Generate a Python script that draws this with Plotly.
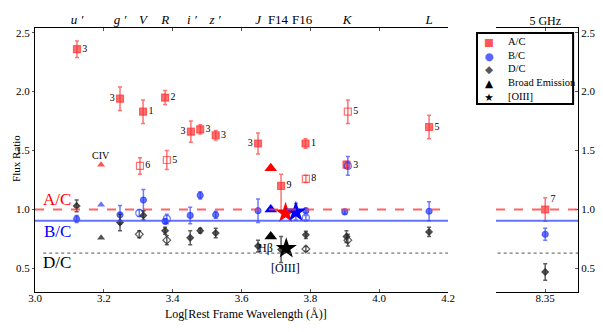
import plotly.graph_objects as go

# band positions (log rest-frame wavelength) and names for the top axis
band_x = [3.122, 3.247, 3.314, 3.378, 3.456, 3.523, 3.648, 3.706, 3.776, 3.907, 4.145]
band_names = ["<i>u ′</i>", "<i>g ′</i>", "<i>V</i>", "<i>R</i>", "<i>i ′</i>", "<i>z ′</i>",
              "<i>J</i>", "F14", "F16", "<i>K</i>", "<i>L</i>"]

# A/C filled squares
ac_x = [3.122, 3.247, 3.314, 3.378, 3.453, 3.480, 3.525, 3.648, 3.715, 3.786, 3.905, 4.145]
ac_y = [2.36, 1.94, 1.83, 1.95, 1.66, 1.68, 1.63, 1.56, 1.20, 1.56, 1.38, 1.70]
ac_err = [0.07, 0.10, 0.10, 0.06, 0.09, 0.04, 0.04, 0.09, 0.10, 0.04, 0.03, 0.10]
ac_err_lo = [0.07, 0.10, 0.10, 0.06, 0.09, 0.04, 0.04, 0.09, 0.22, 0.04, 0.03, 0.10]
ac_ref = ["3", "3", "1", "2", "3", "3", "3", "3", "9", "1", "", "5"]
ac_pos = ["middle right", "middle left", "middle right", "middle right", "middle left",
          "middle right", "middle right", "middle left", "middle right", "middle right",
          "middle right", "middle right"]

# A/C open squares
aco_x = [3.305, 3.383, 3.787, 3.909]
aco_y = [1.37, 1.42, 1.26, 1.83]
aco_err = [0.07, 0.08, 0.03, 0.10]
aco_ref = ["6", "5", "8", "5"]

# B/C filled circles
bc_x = [3.121, 3.247, 3.315, 3.378, 3.451, 3.480, 3.525, 3.648, 3.787, 3.900, 4.145]
bc_y = [0.92, 0.955, 1.08, 0.90, 0.95, 1.12, 0.955, 0.99, 0.99, 0.98, 0.985]
bc_err = [0.03, 0.08, 0.09, 0.02, 0.07, 0.03, 0.03, 0.10, 0.02, 0.02, 0.08]

# B/C open circles
bco_x = [3.303, 3.383, 3.787, 3.909]
bco_y = [0.97, 0.92, 0.93, 1.37]
bco_err = [0.03, 0.04, 0.02, 0.08]
bco_ref = ["", "", "", "3"]

# D/C filled diamonds
dc_x = [3.121, 3.247, 3.315, 3.378, 3.451, 3.480, 3.525, 3.648, 3.715, 3.787, 3.905, 4.145]
dc_y = [1.03, 0.89, 0.95, 0.82, 0.76, 0.82, 0.80, 0.69, 0.66, 0.785, 0.77, 0.81]
dc_err = [0.05, 0.07, 0.04, 0.03, 0.06, 0.02, 0.04, 0.05, 0.11, 0.03, 0.05, 0.04]

# D/C open diamonds
dco_x = [3.303, 3.383, 3.787, 3.909]
dco_y = [0.79, 0.74, 0.665, 0.74]
dco_err = [0.03, 0.04, 0.02, 0.05]

# broad emission lines (CIV, Hbeta)
civ_x = 3.192
civ_y = [1.38, 1.04, 0.76]
hb_x = 3.685
hb_y = [1.35, 1.00, 0.77]

# [OIII]
oiii_x = [3.728, 3.758, 3.730]
oiii_y = [0.97, 0.98, 0.67]
oiii_err = [0, 0.07, 0]

# 5 GHz radio
radio_x = 8.35
radio_y = [1.00, 0.79, 0.47]
radio_err = [0.10, 0.05, 0.07]

# mean ratio levels
ac_mean, bc_mean, dc_mean = 1.0, 0.905, 0.63

# legend entries
legend_names = ["A/C", "B/C", "D/C", "Broad Emission", "[OIII]"]

RED = "rgba(255,40,40,0.65)"
BLUE = "rgba(30,50,255,0.65)"
GREY = "rgba(40,40,40,0.75)"
SERIF = "Liberation Serif"

fig = go.Figure()


def pts(x, y, err, color, symbol, size, err_lo=None, text=None, pos="middle right",
        xa="x", ya="y"):
    fig.add_trace(go.Scatter(
        x=x, y=y, xaxis=xa, yaxis=ya,
        mode="markers+text" if text else "markers",
        text=text, textposition=pos,
        textfont=dict(family=SERIF, size=10, color="black"),
        marker=dict(symbol=symbol, size=size, color=color,
                    line=dict(color=color, width=1.2)),
        error_y=dict(type="data", array=err, arrayminus=err_lo if err_lo else err,
                     color=color, thickness=1.5, width=2),
        showlegend=False, cliponaxis=False))


pts(ac_x, ac_y, ac_err, RED, "square", 7, ac_err_lo, ac_ref, ac_pos)
pts(aco_x, aco_y, aco_err, RED, "square-open", 7, None, aco_ref)
pts(bc_x, bc_y, bc_err, BLUE, "circle", 6)
pts(bco_x, bco_y, bco_err, BLUE, "circle-open", 7, None, bco_ref)
pts(dc_x, dc_y, dc_err, GREY, "diamond", 5)
pts(dco_x, dco_y, dco_err, GREY, "diamond-open", 6)

line_cols = ["red", "blue", "black"]
fig.add_trace(go.Scatter(x=[civ_x] * 3, y=civ_y, mode="markers", showlegend=False,
                         marker=dict(symbol="triangle-up", size=7,
                                     color=["rgba(255,40,40,0.8)", "rgba(40,60,255,0.7)",
                                            "rgba(40,40,40,0.8)"])))
fig.add_trace(go.Scatter(x=[hb_x] * 3, y=hb_y, mode="markers", showlegend=False,
                         marker=dict(symbol="triangle-up", size=11, color=line_cols)))
fig.add_trace(go.Scatter(x=oiii_x, y=oiii_y, mode="markers", showlegend=False,
                         error_y=dict(type="data", array=oiii_err, color=BLUE,
                                      thickness=1.5, width=2),
                         marker=dict(symbol="star", size=16, color=line_cols)))

# radio panel
pts([radio_x], [radio_y[0]], [radio_err[0]], RED, "square", 7, None, ["7"], "top right",
    "x2", "y2")
pts([radio_x], [radio_y[1]], [radio_err[1]], BLUE, "circle", 6, xa="x2", ya="y2")
pts([radio_x], [radio_y[2]], [radio_err[2]], GREY, "diamond", 5, xa="x2", ya="y2")

# invisible traces so the top (band / frequency) axes get drawn
fig.add_trace(go.Scatter(x=band_x, y=[None] * len(band_x), xaxis="x3", yaxis="y",
                         mode="markers", showlegend=False, hoverinfo="skip"))
fig.add_trace(go.Scatter(x=[radio_x], y=[None], xaxis="x4", yaxis="y2",
                         mode="markers", showlegend=False, hoverinfo="skip"))

# mean level lines in both panels
for xr, yr in [("x domain", "y"), ("x2 domain", "y2")]:
    fig.add_shape(type="line", xref=xr, yref=yr, x0=0, x1=1, y0=ac_mean, y1=ac_mean,
                  line=dict(color="rgba(255,60,60,0.8)", width=2, dash="dash"))
    fig.add_shape(type="line", xref=xr, yref=yr, x0=0, x1=1, y0=bc_mean, y1=bc_mean,
                  line=dict(color="rgba(60,80,255,0.8)", width=2))
    fig.add_shape(type="line", xref=xr, yref=yr, x0=0.02, x1=1, y0=dc_mean, y1=dc_mean,
                  line=dict(color="rgba(80,80,80,0.8)", width=1.2, dash="dot"))

anns = [("A/C", 3.065, 1.085, "red", 17), ("B/C", 3.065, 0.81, "blue", 17),
        ("D/C", 3.065, 0.55, "black", 17), ("CIV", civ_x, 1.46, "black", 10),
        ("Hβ", 3.670, 0.675, "black", 12), ("[OIII]", 3.727, 0.505, "black", 12)]
for t, ax_, ay_, c, s in anns:
    fig.add_annotation(x=ax_, y=ay_, text=t, showarrow=False,
                       font=dict(family=SERIF, size=s, color=c))

axis_font = dict(family=SERIF, size=11, color="black")

# axis titles
fig.add_annotation(xref="paper", yref="paper", x=0.389, y=-0.083, xanchor="center",
                   yanchor="middle", text="Log[Rest Frame Wavelength (Å)]",
                   showarrow=False, font=dict(family=SERIF, size=12, color="black"))
fig.add_annotation(xref="paper", yref="paper", x=-0.035, y=0.508, xanchor="center",
                   yanchor="middle", text="Flux Ratio", textangle=-90, showarrow=False,
                   font=axis_font)

# legend box (compact, drawn with annotations)
leg_syms = ["<span style='color:rgba(255,40,40,0.8)'>■</span>",
            "<span style='color:rgba(30,50,255,0.75)'>●</span>",
            "<span style='color:rgba(40,40,40,0.8)'>◆</span>",
            "<span style='color:black'>▲</span>",
            "<span style='color:black'>★</span>"]
fig.add_shape(type="rect", xref="paper", yref="paper", x0=0.814, x1=0.991, y0=0.712, y1=0.981,
              line=dict(color="black", width=2), fillcolor="white", layer="above")
fig.add_annotation(xref="paper", yref="paper", x=0.836, y=0.978, xanchor="center",
                   yanchor="top", showarrow=False, align="center", text="<br>".join(leg_syms),
                   font=dict(family="DejaVu Sans", size=10.5, color="black"))
fig.add_annotation(xref="paper", yref="paper", x=0.868, y=0.978, xanchor="left",
                   yanchor="top", showarrow=False, align="left",
                   text="<br>".join(legend_names),
                   font=dict(family=SERIF, size=10.5, color="black"))

# the page body adds an 8px offset, so the figure is 8px smaller and margins shifted
fig.update_layout(
    width=595, height=324, plot_bgcolor="white", paper_bgcolor="white",
    margin=dict(l=27, r=25, t=20, b=40), showlegend=False,
    font=dict(family=SERIF, size=11, color="black"),
    xaxis=dict(domain=[0, 0.7606], range=[3.0, 4.2], tickvals=[3.0, 3.2, 3.4, 3.6, 3.8, 4.0, 4.2],
               ticktext=["3.0", "3.2", "3.4", "3.6", "3.8", "4.0", "4.2"],
               showline=True, linecolor="black", linewidth=1, mirror="ticks",
               ticks="inside", ticklen=3, tickcolor="#555", showgrid=False, zeroline=False,
               tickfont=axis_font, anchor="y", automargin=False, ticklabelstandoff=-4),
    xaxis3=dict(overlaying="x", side="top", anchor="y", range=[3.0, 4.2], tickvals=band_x,
                ticktext=band_names, ticks="", showline=False, showgrid=False,
                zeroline=False, tickfont=dict(family=SERIF, size=13, color="black"),
                automargin=False),
    xaxis2=dict(domain=[0.849, 1.0], range=[8.2, 8.45], tickvals=[8.35], ticktext=["8.35"],
                showline=True, linecolor="black", linewidth=1, mirror="ticks",
                ticks="inside", ticklen=3, tickcolor="#555", showgrid=False, zeroline=False,
                tickfont=axis_font, anchor="y2", automargin=False, ticklabelstandoff=-4),
    xaxis4=dict(overlaying="x2", side="top", anchor="y2", range=[8.2, 8.45], tickvals=[8.35],
                ticktext=["5 GHz"], ticks="", showline=False, showgrid=False,
                zeroline=False, tickfont=dict(family=SERIF, size=12, color="black"),
                automargin=False),
    yaxis=dict(range=[0.3, 2.54], tickvals=[0.5, 1.0, 1.5, 2.0, 2.5],
               ticktext=["0.5", "1.0", "1.5", "2.0", "2.5"], showline=True,
               linecolor="black", linewidth=1, ticks="outside", ticklen=2, tickcolor="#555",
               showgrid=False, zeroline=False, tickfont=axis_font, anchor="x",
               automargin=False),
    yaxis2=dict(range=[0.3, 2.54], tickvals=[0.5, 1.0, 1.5, 2.0, 2.5],
                ticktext=["0.5", "1.0", "1.5", "2.0", "2.5"], side="right", anchor="x2",
                showline=True, linecolor="black", linewidth=1, ticks="inside", ticklen=3,
                tickcolor="#555", showgrid=False, zeroline=False, tickfont=axis_font,
                automargin=False),
)

fig.write_html("out.html")
